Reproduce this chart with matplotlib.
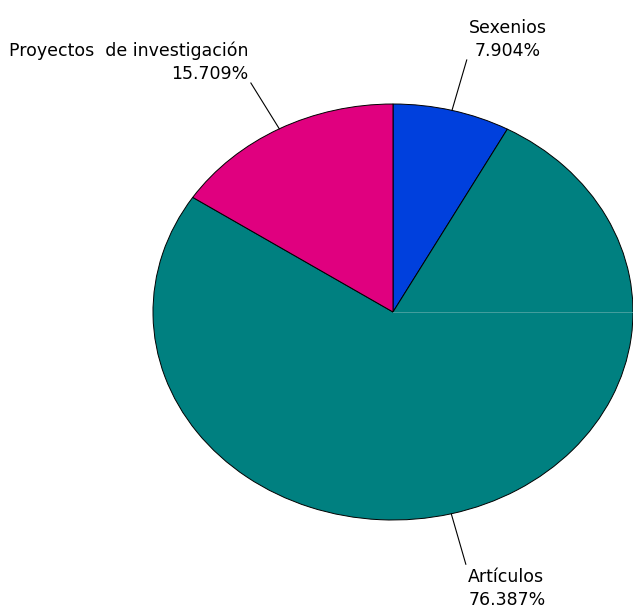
import matplotlib.pyplot as plt
import numpy as np

# datos del grafico
categorias = ['Sexenios', 'Artículos', 'Proyectos  de investigación']
porcentajes = [7.904, 76.387, 15.709]
colores = ['#0040DD', '#008080', '#E0007F']

fig = plt.figure(figsize=(6.33, 6.11), dpi=100)
ax = fig.add_axes([153 / 633, 91 / 611, 480 / 633, 416 / 611])

wedges, _ = ax.pie(porcentajes, colors=colores, startangle=90, counterclock=False,
                   wedgeprops=dict(edgecolor='black', linewidth=0.7))
ax.set_aspect('auto')
ax.set_xlim(-1, 1)
ax.set_ylim(-1, 1)

# costura clara que se ve en el original
ax.plot([0, 1], [0, 0], color='#4fa3a3', lw=0.6)

for w, cat, p in zip(wedges, categorias, porcentajes):
    ang = np.deg2rad((w.theta1 + w.theta2) / 2)
    c, s = np.cos(ang), np.sin(ang)
    ax.plot([c, 1.25 * c], [s, 1.25 * s], color='black', lw=0.8, clip_on=False)
    ha = 'left' if c > 0 else 'right'
    va = 'bottom' if s > 0 else 'top'
    if c < 0:
        ma = 'right'
    elif s < 0:
        ma = 'left'
    else:
        ma = 'center'
    dx = 0.01 if c > 0 else -0.01
    dy = 0 if s > 0 else -0.02
    ax.text(1.25 * c + dx, 1.25 * s + dy, '%s\n%.3f%%' % (cat, p),
            ha=ha, va=va, multialignment=ma, fontsize=12.5, linespacing=1.35,
            family='DejaVu Sans')

fig.savefig('out.png', dpi=100)
